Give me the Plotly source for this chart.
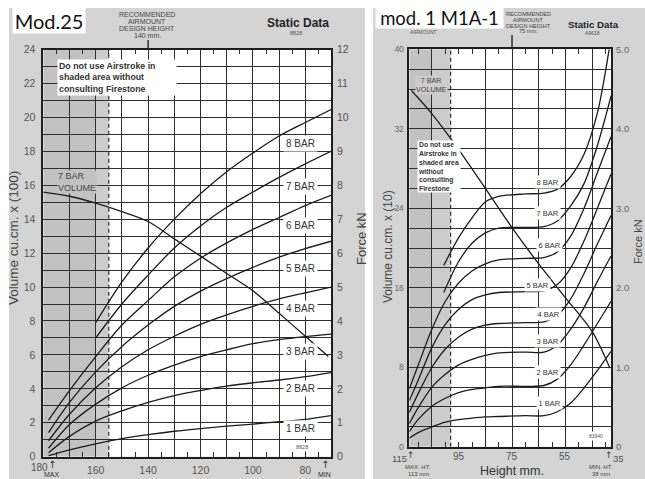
import plotly.graph_objects as go

FIG_W, FIG_H = 645, 479

# ---------------- Mod.25 chart (left) ----------------
# heights in mm, forces in kN (right axis), volume in cu.cm x 100 (left axis)
mod25_heights = [178, 170, 160, 150, 140, 130, 120, 110, 100, 90, 80, 70.2]
mod25_1bar = [0.03, 0.20, 0.38, 0.53, 0.65, 0.75, 0.83, 0.90, 0.96, 1.03, 1.10, 1.21]
mod25_2bar = [0.12, 0.60, 1.05, 1.35, 1.60, 1.80, 1.95, 2.08, 2.18, 2.26, 2.36, 2.48]
mod25_3bar = [0.25, 0.95, 1.55, 2.03, 2.40, 2.70, 2.95, 3.15, 3.33, 3.45, 3.54, 3.61]
mod25_4bar = [0.47, 1.25, 2.03, 2.65, 3.15, 3.55, 3.90, 4.18, 4.43, 4.65, 4.83, 5.00]
mod25_5bar = [0.71, 1.60, 2.50, 3.25, 3.88, 4.43, 4.88, 5.25, 5.58, 5.88, 6.13, 6.35]
mod25_6bar = [1.08, 1.95, 2.95, 3.88, 4.60, 5.30, 5.85, 6.30, 6.70, 7.05, 7.40, 7.70]
mod25_heights_hi = [160, 150, 140, 130, 120, 110, 100, 90, 80, 70.2]
mod25_7bar = [3.50, 4.50, 5.35, 6.15, 6.80, 7.35, 7.80, 8.23, 8.63, 9.00]
mod25_8bar = [3.95, 5.15, 6.15, 7.00, 7.75, 8.40, 8.95, 9.45, 9.85, 10.23]
mod25_vol_heights = [180, 170, 160, 150, 140, 130, 120, 110, 100, 90, 80, 71.2]
mod25_volume_7bar = [15.6, 15.35, 14.95, 14.45, 13.86, 12.84, 11.82, 10.8, 9.78, 8.45, 7.1, 5.9]
mod25_x_ticks = [180, 170, 160, 150, 140, 130, 120, 110, 100, 90, 80]
mod25_design_height = 140
mod25_shaded_limit = 155
mod25_max_height = 176.5
mod25_min_height = 72.5

# ---------------- 1 M1A-1 chart (right) ----------------
# heights in mm, forces in kN (right axis), volume in cu.cm x 10 (left axis)
m1a_heights = [113.5, 110, 105, 100, 95, 90, 85, 80, 70, 63, 58, 53, 48, 43, 37.9]
m1a_1bar = [0.11, 0.18, 0.25, 0.31, 0.34, 0.36, 0.375, 0.38, 0.39, 0.39, 0.44, 0.55, 0.74, 0.96, 1.20]
m1a_2bar = [0.19, 0.35, 0.51, 0.61, 0.68, 0.72, 0.74, 0.76, 0.76, 0.77, 0.85, 1.03, 1.28, 1.55, 1.83]
m1a_3bar = [0.29, 0.50, 0.75, 0.91, 1.03, 1.10, 1.15, 1.18, 1.19, 1.19, 1.28, 1.48, 1.75, 2.08, 2.40]
m1a_4bar = [0.43, 0.68, 1.00, 1.23, 1.38, 1.48, 1.53, 1.55, 1.56, 1.57, 1.65, 1.86, 2.18, 2.55, 2.91]
m1a_5bar = [0.58, 0.85, 1.25, 1.54, 1.73, 1.85, 1.91, 1.94, 1.95, 1.96, 2.04, 2.25, 2.59, 3.00, 3.43]
m1a_6bar = [0.73, 1.04, 1.48, 1.83, 2.06, 2.21, 2.30, 2.35, 2.37, 2.38, 2.45, 2.65, 3.00, 3.45, 3.90]
m1a_heights_7 = [100.6, 95, 90, 85, 80, 70, 63, 58, 53, 48, 43, 37.9]
m1a_7bar = [1.94, 2.33, 2.56, 2.69, 2.75, 2.76, 2.77, 2.84, 3.03, 3.31, 3.79, 4.41]
m1a_heights_8 = [100.6, 95, 90, 85, 80, 70, 63, 58, 53, 48, 43, 38.6]
m1a_8bar = [2.28, 2.63, 2.88, 3.08, 3.15, 3.18, 3.19, 3.24, 3.40, 3.68, 4.20, 5.00]
m1a_vol_heights = [112.7, 105, 95, 85, 75, 65, 55, 45, 38.3]
m1a_volume_7bar = [35.85, 33.5, 29.9, 26.0, 22.05, 18.4, 15.0, 11.6, 7.9]
m1a_grid_x = [105, 85, 75, 65, 55, 45]
m1a_minor_x = [110, 100, 95, 90, 80, 70, 60, 50, 40]
m1a_x_labels = [95, 75, 55]
m1a_design_height = 75
m1a_shaded_limit = 98
m1a_max_height = 113
m1a_min_height = 38.8

bar_names = ["1 BAR", "2 BAR", "3 BAR", "4 BAR", "5 BAR", "6 BAR", "7 BAR", "8 BAR"]

# ---------------- styling ----------------
FONT = "Liberation Sans, Arial, sans-serif"
GRID = "#2e2e2e"
FRAME = "#1e1e1e"
CURVE = "#1c1c1c"
PANEL = "#d4d4d4"
SHADE_DARK = "#c2c2c2"
SHADE_LIGHT = "#cccccc"
TICK = "#555555"

# plot-area pixel boxes (left, right, top, bottom)
L_BOX = (43.3, 331.0, 49.5, 456.7)
R_BOX = (409.3, 611.0, 49.3, 446.7)
L_RANGE = [180, 70.2]
R_RANGE = [113.5, 37.9]


def px(x):
    return x / FIG_W


def py(y):
    return 1 - y / FIG_H


def right_x_pixel(v):
    # pixel column of a height value on the right chart's x axis
    return R_BOX[0] + (R_RANGE[0] - v) * (R_BOX[1] - R_BOX[0]) / (R_RANGE[0] - R_RANGE[1])


fig = go.Figure()

line_style = dict(color=CURVE, width=1.3, shape="spline", smoothing=0.9)

for ys in [mod25_1bar, mod25_2bar, mod25_3bar, mod25_4bar, mod25_5bar, mod25_6bar]:
    fig.add_trace(go.Scatter(x=mod25_heights, y=ys, mode="lines", line=line_style,
                             xaxis="x", yaxis="y3", hoverinfo="skip"))
for ys in [mod25_7bar, mod25_8bar]:
    fig.add_trace(go.Scatter(x=mod25_heights_hi, y=ys, mode="lines", line=line_style,
                             xaxis="x", yaxis="y3", hoverinfo="skip"))
fig.add_trace(go.Scatter(x=mod25_vol_heights, y=mod25_volume_7bar, mode="lines", line=line_style,
                         xaxis="x", yaxis="y", hoverinfo="skip"))

for ys in [m1a_1bar, m1a_2bar, m1a_3bar, m1a_4bar, m1a_5bar, m1a_6bar]:
    fig.add_trace(go.Scatter(x=m1a_heights, y=ys, mode="lines", line=line_style,
                             xaxis="x2", yaxis="y4", hoverinfo="skip"))
fig.add_trace(go.Scatter(x=m1a_heights_7, y=m1a_7bar, mode="lines", line=line_style,
                         xaxis="x2", yaxis="y4", hoverinfo="skip"))
fig.add_trace(go.Scatter(x=m1a_heights_8, y=m1a_8bar, mode="lines", line=line_style,
                         xaxis="x2", yaxis="y4", hoverinfo="skip"))
fig.add_trace(go.Scatter(x=m1a_vol_heights, y=m1a_volume_7bar, mode="lines", line=line_style,
                         xaxis="x2", yaxis="y2", hoverinfo="skip"))

# ---------------- axes ----------------
L_X = [px(L_BOX[0]), px(L_BOX[1])]
L_Y = [py(L_BOX[3]), py(L_BOX[2])]
R_X = [px(R_BOX[0]), px(R_BOX[1])]
R_Y = [py(R_BOX[3]), py(R_BOX[2])]

common_x = dict(showline=True, linecolor=FRAME, linewidth=1.5, mirror="ticks", ticks="",
                showgrid=True, gridcolor=GRID, gridwidth=1, zeroline=False, fixedrange=True)
common_y = dict(showline=True, linecolor=FRAME, linewidth=1.5, mirror=True, ticks="",
                showgrid=True, gridcolor=GRID, gridwidth=1, zeroline=False, fixedrange=True)

fig.update_layout(
    xaxis=dict(domain=L_X, range=L_RANGE, anchor="y", tickmode="array",
               tickvals=mod25_x_ticks,
               ticktext=[str(v) if v % 20 == 0 and v != 180 else "" for v in mod25_x_ticks],
               tickfont=dict(family=FONT, size=10.5, color=TICK), ticklabelstandoff=3,
               minor=dict(tickmode="array", tickvals=[v - 5 for v in mod25_x_ticks],
                          ticks="inside", ticklen=5, tickcolor=GRID, tickwidth=1, showgrid=False),
               **common_x),
    yaxis=dict(domain=L_Y, range=[0, 24], anchor="x", tickmode="array",
               tickvals=list(range(0, 25)),
               ticktext=[str(v) if v % 2 == 0 else "" for v in range(0, 25)],
               tickfont=dict(family=FONT, size=10.5, color=TICK), ticklabelstandoff=4,
               **common_y),
    yaxis3=dict(overlaying="y", anchor="x", side="right", range=[0, 12], tickmode="array",
                tickvals=list(range(0, 13)), showgrid=False, ticks="", showline=False,
                zeroline=False, fixedrange=True, ticklabelstandoff=5,
                tickfont=dict(family=FONT, size=10.5, color=TICK)),
    xaxis2=dict(domain=R_X, range=R_RANGE, anchor="y2", tickmode="array",
                tickvals=m1a_grid_x, showticklabels=False,
                minor=dict(tickmode="array", tickvals=m1a_minor_x, ticks="inside", ticklen=5,
                           tickcolor=GRID, tickwidth=1, showgrid=False),
                **common_x),
    yaxis2=dict(domain=R_Y, range=[0, 40], anchor="x2", tickmode="array",
                tickvals=list(range(0, 41, 2)),
                ticktext=[str(v) if v % 8 == 0 else "" for v in range(0, 41, 2)],
                tickfont=dict(family=FONT, size=8.5, color="#666"), ticklabelstandoff=2,
                **common_y),
    yaxis4=dict(overlaying="y2", anchor="x2", side="right", range=[0, 5], tickmode="array",
                tickvals=[0, 1, 2, 3, 4, 5], ticktext=["0", "1.0", "2.0", "3.0", "4.0", "5.0"],
                showgrid=False, ticks="", showline=False, zeroline=False, fixedrange=True,
                ticklabelstandoff=4, tickfont=dict(family=FONT, size=9.5, color="#666")),
)

# ---------------- background shapes ----------------
shapes = []
# white gutters around the two grey panels
for x0, y0, x1, y1 in [(0, 0, 9, FIG_H), (0, 0, FIG_W, 8), (365, 0, 373, FIG_H)]:
    shapes.append(dict(type="rect", xref="paper", yref="paper", x0=px(x0), x1=px(x1),
                       y0=py(y1), y1=py(y0), fillcolor="white", line_width=0, layer="below"))

# shaded "do not use" zones
shapes += [
    dict(type="rect", xref="x", yref="y", x0=180, x1=160, y0=0, y1=24,
         fillcolor=SHADE_DARK, line_width=0, layer="below"),
    dict(type="rect", xref="x", yref="y", x0=160, x1=mod25_shaded_limit, y0=0, y1=24,
         fillcolor=SHADE_LIGHT, line_width=0, layer="below"),
    dict(type="line", xref="x", yref="y", x0=mod25_shaded_limit, x1=mod25_shaded_limit,
         y0=0, y1=24, line=dict(color=GRID, width=1.2, dash="4px,3px"), layer="below"),
    dict(type="rect", xref="x2", yref="y2", x0=113.5, x1=105, y0=0, y1=40,
         fillcolor=SHADE_DARK, line_width=0, layer="below"),
    dict(type="rect", xref="x2", yref="y2", x0=105, x1=m1a_shaded_limit, y0=0, y1=40,
         fillcolor=SHADE_LIGHT, line_width=0, layer="below"),
    dict(type="line", xref="x2", yref="y2", x0=m1a_shaded_limit, x1=m1a_shaded_limit,
         y0=0, y1=40, line=dict(color=GRID, width=1.2, dash="4px,3px"), layer="below"),
]
# design height markers rising above the plot frame
shapes += [
    dict(type="line", xref="x", yref="paper", x0=mod25_design_height, x1=mod25_design_height,
         y0=py(L_BOX[2]), y1=py(40), line=dict(color=GRID, width=1.5)),
    dict(type="line", xref="x2", yref="paper", x0=m1a_design_height, x1=m1a_design_height,
         y0=py(R_BOX[2]), y1=py(35), line=dict(color=GRID, width=1.5)),
]

annotations = []


def label(text, x, y, size, color="#333", family=FONT, xanchor="center", yanchor="middle",
          angle=0, bg=None, width=None, height=None, align="center", pad=0, xref="paper"):
    a = dict(text=text, x=x if xref != "paper" else px(x), y=py(y), xref=xref, yref="paper",
             showarrow=False, xanchor=xanchor, yanchor=yanchor, textangle=angle,
             font=dict(size=size, color=color, family=family), borderpad=pad, align=align)
    if bg:
        a["bgcolor"] = bg
    if width:
        a["width"] = width
    if height:
        a["height"] = height
    annotations.append(a)


# ---------- left chart texts ----------
for i, t in enumerate(["RECOMMENDED", "AIRMOUNT", "DESIGN HEIGHT", "140 mm."]):
    label(t, 147, 15 + i * 7, 7, color="#444")
label("<b>Static Data</b>", 298, 23, 12, color="#222")
label("8828", 296, 33, 5.5, color="#555")
label("Mod.25", 49, 20.5, 20, color="#111", family="Lato, Open Sans, sans-serif",
      bg="white", width=72, height=25)

label("<b>Do not use Airstroke in<br>shaded area without<br>consulting Firestone</b>",
      57, 59, 8.8, color="#333", xanchor="left", yanchor="top", bg="white",
      width=116, align="left", pad=1)
label("7 BAR<br>VOLUME", 57, 182, 9, color="#444", xanchor="left", bg=SHADE_DARK,
      align="left", pad=0)

for name, y in zip(bar_names[::-1], [143.3, 186.7, 225, 268.3, 308.3, 351.7, 388.3, 428.3]):
    label(name, 300, y, 10, color="#333", bg="white", pad=2)
label("8828", 302, 446.7, 5.5, color="#555", bg="white", pad=1)

label("Volume cu.cm. x (100)", 13, 238, 13.5, color="#444", angle=-90)
label("Force kN", 361, 238, 13, color="#444", angle=-90)

label("180", 49, 467.5, 10, color=TICK, xanchor="right")
label("↑", mod25_max_height, 464, 10, color="#333", family="DejaVu Sans", xref="x")
label("MAX", mod25_max_height, 479, 7, color="#333", yanchor="bottom", xref="x")
label("↑", mod25_min_height, 464, 10, color="#333", family="DejaVu Sans", xref="x")
label("MIN", mod25_min_height, 479, 7, color="#333", yanchor="bottom", xref="x")

# ---------- right chart texts ----------
for i, t in enumerate(["RECOMMENDED", "AIRMOUNT", "DESIGN HEIGHT", "75 mm."]):
    label(t, 528, 14 + i * 5.8, 5.6, color="#444")
label("AIRMOUNT", 423, 31.5, 5, color="#555")
label("<b>Static Data</b>", 593, 24, 9.7, color="#222")
label("A9618", 592, 33, 5, color="#555")
label("mod. 1 M1A-1", 439.5, 17.5, 18.5, color="#111", family="Lato, Open Sans, sans-serif",
      bg="white", width=127, height=20)

label("7 BAR<br>VOLUME", 431, 84.5, 7.2, color="#444", bg=SHADE_LIGHT, pad=0)
label("<b>Do not use<br>Airstroke in<br>shaded area<br>without<br>consulting<br>Firestone</b>",
      417, 140, 6.8, color="#333", xanchor="left", yanchor="top", bg="white",
      width=42, align="left", pad=0)

for name, x, y in zip(bar_names[::-1],
                      [547, 547, 549, 537.5, 548, 547, 547, 549],
                      [181.7, 213.3, 245, 285, 314, 340.7, 371.7, 402.7]):
    label(name, x, y, 7.5, color="#333", bg="white", pad=1.5)
label("83940", 596, 436, 5, color="#555", bg="white", pad=1)

label("Volume cu.cm. x (10)", 388, 247, 12, color="#444", angle=-90)
label("Force kN", 638, 242, 11, color="#444", angle=-90)

for v in m1a_x_labels:
    label(str(v), right_x_pixel(v), 456, 10, color=TICK)
label("115", 408, 458, 9.5, color=TICK, xanchor="right")
label("35", 611.5, 458, 9.5, color=TICK, xanchor="left")
label("↑", m1a_max_height, 455, 9, color="#333", family="DejaVu Sans", xref="x2")
label("↑", m1a_min_height, 455, 9, color="#333", family="DejaVu Sans", xref="x2")
label("MAX. HT.", 418, 467, 6, color="#444")
label("113 mm", 418, 474, 6, color="#444")
label("MIN. HT.", 601, 467, 6, color="#444")
label("38 mm", 601, 474, 6, color="#444")
label("Height mm.", 511.7, 479, 12.5, color="#333", yanchor="bottom")

fig.update_layout(
    width=FIG_W, height=FIG_H, autosize=False,
    margin=dict(l=0, r=0, t=0, b=0, autoexpand=False),
    paper_bgcolor=PANEL, plot_bgcolor="white",
    showlegend=False, shapes=shapes, annotations=annotations,
    font=dict(family=FONT),
)

fig.write_html("out.html")
